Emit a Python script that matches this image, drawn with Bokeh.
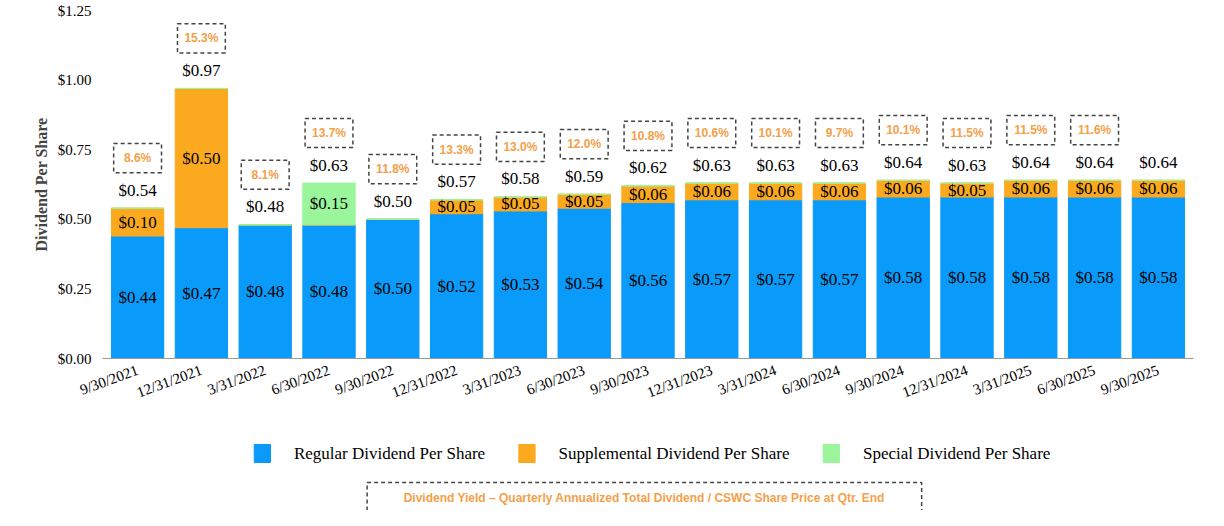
from bokeh.plotting import figure
from bokeh.models import ColumnDataSource, NumeralTickFormatter, Range1d, FixedTicker
from bokeh.layouts import column
from bokeh.core.properties import value
from bokeh.embed import file_html
from bokeh.resources import INLINE

dates = ["9/30/2021","12/31/2021","3/31/2022","6/30/2022","9/30/2022","12/31/2022","3/31/2023","6/30/2023",
         "9/30/2023","12/31/2023","3/31/2024","6/30/2024","9/30/2024","12/31/2024","3/31/2025","6/30/2025","9/30/2025"]
regular = [0.44,0.47,0.48,0.48,0.50,0.52,0.53,0.54,0.56,0.57,0.57,0.57,0.58,0.58,0.58,0.58,0.58]
supplemental = [0.10,0.50,0,0,0,0.05,0.05,0.05,0.06,0.06,0.06,0.06,0.06,0.05,0.06,0.06,0.06]
special = [0,0,0,0.15,0,0,0,0,0,0,0,0,0,0,0,0,0]
totals = [0.54,0.97,0.48,0.63,0.50,0.57,0.58,0.59,0.62,0.63,0.63,0.63,0.64,0.63,0.64,0.64,0.64]
yields = ["8.6%","15.3%","8.1%","13.7%","11.8%","13.3%","13.0%","12.0%","10.8%","10.6%","10.1%","9.7%",
          "10.1%","11.5%","11.5%","11.6%",""]

BLUE, ORANGE, GREEN, YT = "#0a9bfa", "#fba91e", "#9bf59b", "#f5a04a"
SERIF = value("Liberation Serif")
n = len(dates)
xs = list(range(n))

p = figure(width=1208, height=412, x_range=Range1d(-0.55, n - 0.45), y_range=Range1d(0, 1.25),
           output_backend="svg", toolbar_location=None, min_border_left=102, min_border_right=15,
           min_border_top=10, min_border_bottom=54)
p.outline_line_color = None
p.grid.visible = False

r_top = [r + s for r, s in zip(regular, supplemental)]
p.vbar(x=xs, bottom=0, top=regular, width=0.82, color=BLUE)
p.vbar(x=xs, bottom=regular, top=r_top, width=0.82, color=ORANGE)
p.vbar(x=xs, bottom=r_top, top=[a + b for a, b in zip(r_top, special)], width=0.82, color=GREEN)

def lab(x, y, t, **kw):
    p.text(x=x, y=y, text=t, text_align="center", text_baseline="middle",
           text_font=SERIF, text_font_size="17px", text_color="black", **kw)

lab(xs, [r / 2 for r in regular], [f"${v:.2f}" for v in regular])
sx = [i for i in xs if supplemental[i] > 0]
lab(sx, [regular[i] + supplemental[i] / 2 for i in sx], [f"${supplemental[i]:.2f}" for i in sx])
px = [i for i in xs if special[i] > 0]
lab(px, [r_top[i] + special[i] / 2 for i in px], [f"${special[i]:.2f}" for i in px])
lab(xs, [t + 0.065 for t in totals], [f"${t:.2f}" for t in totals])

yx = [i for i in xs if yields[i]]
p.rect(x=yx, y=[totals[i] + 0.18 for i in yx], width=0.75, height=0.105, fill_color=None,
       line_color="#444444", line_dash="4 3", line_width=1.5)
p.text(x=yx, y=[totals[i] + 0.18 for i in yx], text=[yields[i] for i in yx], text_align="center",
       text_baseline="middle", text_font=value("Liberation Sans"), text_font_style="bold",
       text_font_size="12px", text_color=YT)

p.yaxis.ticker = FixedTicker(ticks=[0, 0.25, 0.5, 0.75, 1.0, 1.25])
p.yaxis.formatter = NumeralTickFormatter(format="$0.00")
p.yaxis.axis_line_color = None
p.yaxis.major_tick_line_color = None
p.yaxis.minor_tick_line_color = None
p.yaxis.axis_label = "Dividend Per Share"
p.yaxis.axis_label_text_font = "Liberation Serif"
p.yaxis.axis_label_text_font_style = "bold"
p.yaxis.axis_label_text_font_size = "16px"
p.xaxis.ticker = FixedTicker(ticks=xs)
p.xaxis.major_label_overrides = {i: d for i, d in enumerate(dates)}
p.xaxis.major_label_orientation = 0.35
p.xaxis.major_tick_line_color = None
p.xaxis.minor_tick_line_color = None
p.xaxis.axis_line_color = "#999999"
for ax in (p.xaxis, p.yaxis):
    ax.major_label_text_font = "Liberation Serif"
    ax.major_label_text_font_size = "15px"
    ax.major_label_text_color = "black"

lg = figure(width=1208, height=98, x_range=Range1d(0, 1208), y_range=Range1d(98, 0),
            output_backend="svg", toolbar_location=None, min_border=0)
lg.axis.visible = False
lg.grid.visible = False
lg.outline_line_color = None
names = ["Regular Dividend Per Share", "Supplemental Dividend Per Share", "Special Dividend Per Share"]
cols = [BLUE, ORANGE, GREEN]
sqx = [177, 470, 807]
lg.rect(x=sqx, y=[41] * 3, width=18, height=18, color=cols)
lg.text(x=[s + 35 for s in sqx], y=[41] * 3, text=names, text_baseline="middle",
        text_font=SERIF, text_font_size="17px", text_color="black")
lg.rect(x=[600], y=[85], width=614, height=30, fill_color=None, line_color="#444444",
        line_dash="4 3", line_width=1.5)
lg.text(x=[600], y=[85], text=["Dividend Yield \u2013 Quarterly Annualized Total Dividend / CSWC Share Price at Qtr. End"],
        text_align="center", text_baseline="middle", text_font=value("Liberation Sans"),
        text_font_style="bold", text_font_size="12px", text_color=YT)

open("out.html", "w").write(file_html(column(p, lg, spacing=0), INLINE))
